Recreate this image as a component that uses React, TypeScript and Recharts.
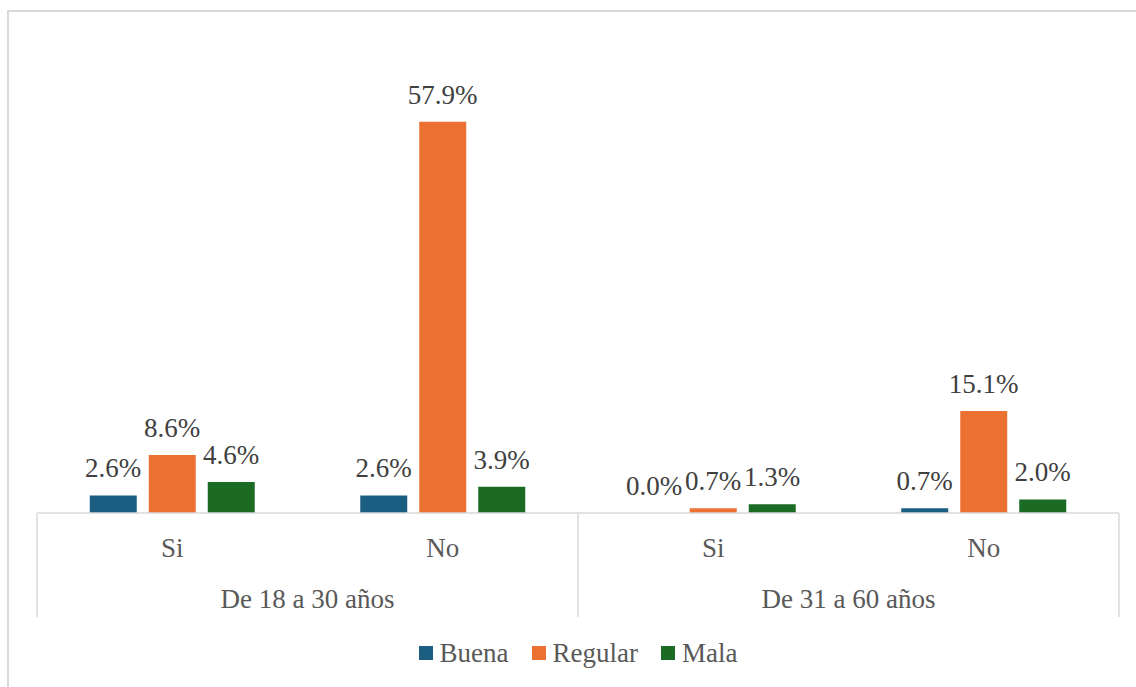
import React from 'react';
import { BarChart, Bar, XAxis, YAxis, Legend, LabelList } from 'recharts';

const groups = ['De 18 a 30 años', 'De 18 a 30 años', 'De 31 a 60 años', 'De 31 a 60 años'];
const answers = ['Si', 'No', 'Si', 'No'];
const seriesNames = ['Buena', 'Regular', 'Mala'];
const buena = [2.6, 2.6, 0.0, 0.7];
const regular = [8.6, 57.9, 0.7, 15.1];
const mala = [4.6, 3.9, 1.3, 2.0];

const data = answers.map((a, i) => ({
  answer: a,
  group: groups[i],
  Buena: buena[i],
  Regular: regular[i],
  Mala: mala[i],
}));

const FONT = 'Liberation Serif, Tinos, DejaVu Serif, serif';
const AXIS_TEXT = '#595959';
const LABEL_TEXT = '#404040';
const GRID = '#d9d9d9';

const fmt = (v: any) => `${Number(v).toFixed(1)}%`;

const AnswerTick = (props: any) => {
  const { x, y, payload } = props;
  return (
    <text x={x} y={y + 44} textAnchor="middle" fill={AXIS_TEXT} fontSize={27} style={{ fontFamily: FONT }}>
      {payload.value}
    </text>
  );
};

const GroupTick = (props: any) => {
  const { x, y, payload, index } = props;
  const half = payload.offset || 0;
  return (
    <g>
      {index === 0 && <line x1={x - half} x2={x - half} y1={y - 50} y2={y + 54} stroke={GRID} strokeWidth={1.5} />}
      <line x1={x + half} x2={x + half} y1={y - 50} y2={y + 54} stroke={GRID} strokeWidth={1.5} />
      <text x={x} y={y + 45} textAnchor="middle" fill={AXIS_TEXT} fontSize={27} style={{ fontFamily: FONT }}>
        {payload.value}
      </text>
    </g>
  );
};

const LegendContent = (props: any) => {
  const items = [...(props.payload || [])].sort(
    (a: any, b: any) => seriesNames.indexOf(a.value) - seriesNames.indexOf(b.value)
  );
  return (
    <div style={{ height: 40, display: 'flex', justifyContent: 'center', alignItems: 'center', fontFamily: FONT, fontSize: 27, color: AXIS_TEXT }}>
      {items.map((p: any, i: number) => (
        <span key={p.value} style={{ display: 'flex', alignItems: 'center', marginLeft: i === 0 ? 0 : 23 }}>
          <span style={{ width: 14, height: 14, background: p.color, display: 'inline-block', marginRight: 7 }} />
          <span>{p.value}</span>
        </span>
      ))}
    </div>
  );
};

const labelStyle = { fontFamily: FONT };

const App: React.FC = () => {
  return (
    <div style={{ position: 'fixed', left: 0, top: 0, width: 1136, height: 687, overflow: 'hidden', background: '#fff', fontFamily: FONT }}>
      <div style={{ position: 'absolute', left: 7, top: 10, width: 1140, height: 700, border: `2px solid ${GRID}` }} />
      <div style={{ position: 'absolute', left: 0, top: 0 }}>
        <BarChart
          width={1136}
          height={687}
          data={data}
          margin={{ top: 40, right: 17, left: 37, bottom: 14 }}
          barCategoryGap="19.5%"
          barGap={12}
          style={{ fontFamily: FONT }}
        >
          <XAxis
            dataKey="answer"
            height={50}
            tickLine={false}
            tickSize={0}
            tickMargin={0}
            axisLine={{ stroke: GRID, strokeWidth: 1.5 }}
            tick={<AnswerTick />}
            interval={0}
          />
          <XAxis
            dataKey="group"
            xAxisId="grp"
            height={70}
            allowDuplicatedCategory={false}
            tickLine={false}
            tickSize={0}
            tickMargin={0}
            axisLine={false}
            tick={<GroupTick />}
            interval={0}
          />
          <YAxis hide domain={[0, 70]} />
          <Legend verticalAlign="bottom" content={<LegendContent />} />
          <Bar dataKey="Buena" fill="#1b5e82" minPointSize={0.01} isAnimationActive={false}>
            <LabelList dataKey="Buena" position="top" offset={18} formatter={fmt} fill={LABEL_TEXT} fontSize={27} style={labelStyle} />
          </Bar>
          <Bar dataKey="Regular" fill="#eb7133" minPointSize={0.01} isAnimationActive={false}>
            <LabelList dataKey="Regular" position="top" offset={18} formatter={fmt} fill={LABEL_TEXT} fontSize={27} style={labelStyle} />
          </Bar>
          <Bar dataKey="Mala" fill="#1b6b25" minPointSize={0.01} isAnimationActive={false}>
            <LabelList dataKey="Mala" position="top" offset={18} formatter={fmt} fill={LABEL_TEXT} fontSize={27} style={labelStyle} />
          </Bar>
        </BarChart>
      </div>
    </div>
  );
};

export default App;
